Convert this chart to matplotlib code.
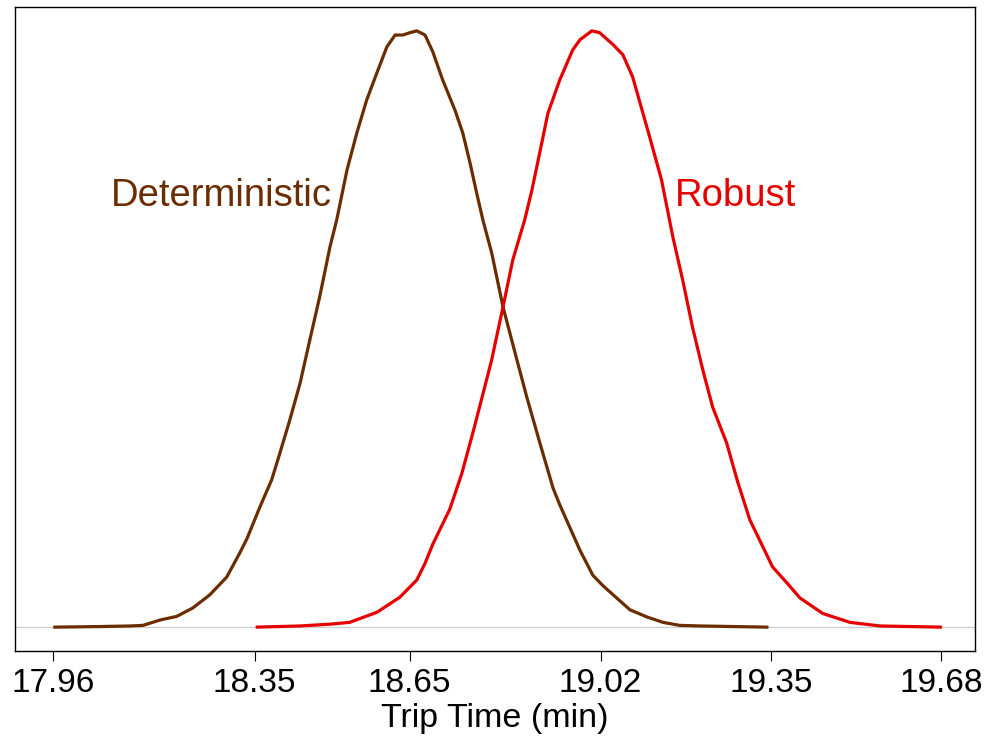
import matplotlib.pyplot as plt

plt.rcParams['font.family'] = ['Liberation Sans', 'DejaVu Sans']

# density estimates of trip time (scaled so the peak is 1)
det_time = [17.960, 18.050, 18.109, 18.134, 18.167, 18.199, 18.230, 18.263, 18.296,
            18.321, 18.335, 18.360, 18.383, 18.399, 18.418, 18.438, 18.457, 18.476,
            18.496, 18.509, 18.529, 18.548, 18.567, 18.587, 18.606, 18.622, 18.637,
            18.651, 18.664, 18.680, 18.695, 18.714, 18.738, 18.753, 18.767, 18.780,
            18.792, 18.809, 18.831, 18.858, 18.877, 18.902, 18.928, 18.941, 18.960,
            18.980, 19.005, 19.024, 19.051, 19.077, 19.110, 19.141, 19.173, 19.212,
            19.345]
det_dens = [0.000, 0.001, 0.002, 0.003, 0.012, 0.018, 0.032, 0.054, 0.084,
            0.124, 0.148, 0.201, 0.247, 0.292, 0.347, 0.409, 0.482, 0.554,
            0.638, 0.683, 0.767, 0.829, 0.884, 0.930, 0.973, 0.993, 0.993,
            0.997, 1.000, 0.993, 0.965, 0.918, 0.867, 0.829, 0.779, 0.728,
            0.683, 0.628, 0.537, 0.448, 0.386, 0.310, 0.233, 0.205, 0.168,
            0.129, 0.087, 0.070, 0.049, 0.029, 0.017, 0.008, 0.003, 0.002,
            0.000]

rob_time = [18.352, 18.438, 18.496, 18.534, 18.587, 18.631, 18.664, 18.680, 18.695,
            18.728, 18.751, 18.773, 18.796, 18.809, 18.831, 18.850, 18.873, 18.887,
            18.902, 18.918, 18.941, 18.966, 18.980, 19.003, 19.018, 19.044, 19.063,
            19.082, 19.115, 19.138, 19.160, 19.179, 19.198, 19.218, 19.237, 19.264,
            19.286, 19.309, 19.353, 19.381, 19.406, 19.450, 19.503, 19.561, 19.681]
rob_dens = [0.000, 0.002, 0.005, 0.008, 0.025, 0.050, 0.079, 0.107, 0.139,
            0.198, 0.257, 0.327, 0.404, 0.448, 0.537, 0.616, 0.683, 0.733,
            0.795, 0.862, 0.918, 0.968, 0.985, 1.000, 0.997, 0.977, 0.960,
            0.923, 0.822, 0.750, 0.654, 0.582, 0.503, 0.431, 0.369, 0.309,
            0.242, 0.180, 0.101, 0.074, 0.049, 0.023, 0.008, 0.002, 0.000]

tick_values = [17.96, 18.35, 18.65, 19.02, 19.35, 19.68]
tick_labels = ['17.96', '18.35', '18.65', '19.02', '19.35', '19.68']

brown = '#6B2D00'
red = '#E60000'

fig = plt.figure(figsize=(9.9, 7.4), dpi=100)
ax = fig.add_axes([15 / 990, 89 / 740, 960 / 990, 644 / 740])

ax.axhline(0, color='#CCCCCC', lw=1, zorder=1)
ax.plot(det_time, det_dens, color=brown, lw=2.3, zorder=2,
        solid_joinstyle='round', solid_capstyle='butt')
ax.plot(rob_time, rob_dens, color=red, lw=2.3, zorder=3,
        solid_joinstyle='round', solid_capstyle='butt')

ax.text(18.286, 0.723, 'Deterministic', color=brown, fontsize=27.5,
        ha='center', va='center')
ax.text(19.281, 0.723, 'Robust', color=red, fontsize=27.5,
        ha='center', va='center')

ax.set_xlim(17.886, 19.745)
ax.set_ylim(-0.04, 1.04)

ax.set_xticks(tick_values)
ax.set_xticklabels(tick_labels, fontsize=24)
ax.tick_params(axis='x', length=7.2, width=0.8, pad=5)
ax.set_yticks([])
ax.set_xlabel('Trip Time (min)', fontsize=24.5, labelpad=3)

for s in ax.spines.values():
    s.set_linewidth(1)
    s.set_color('black')

fig.savefig('out.png', dpi=100)
